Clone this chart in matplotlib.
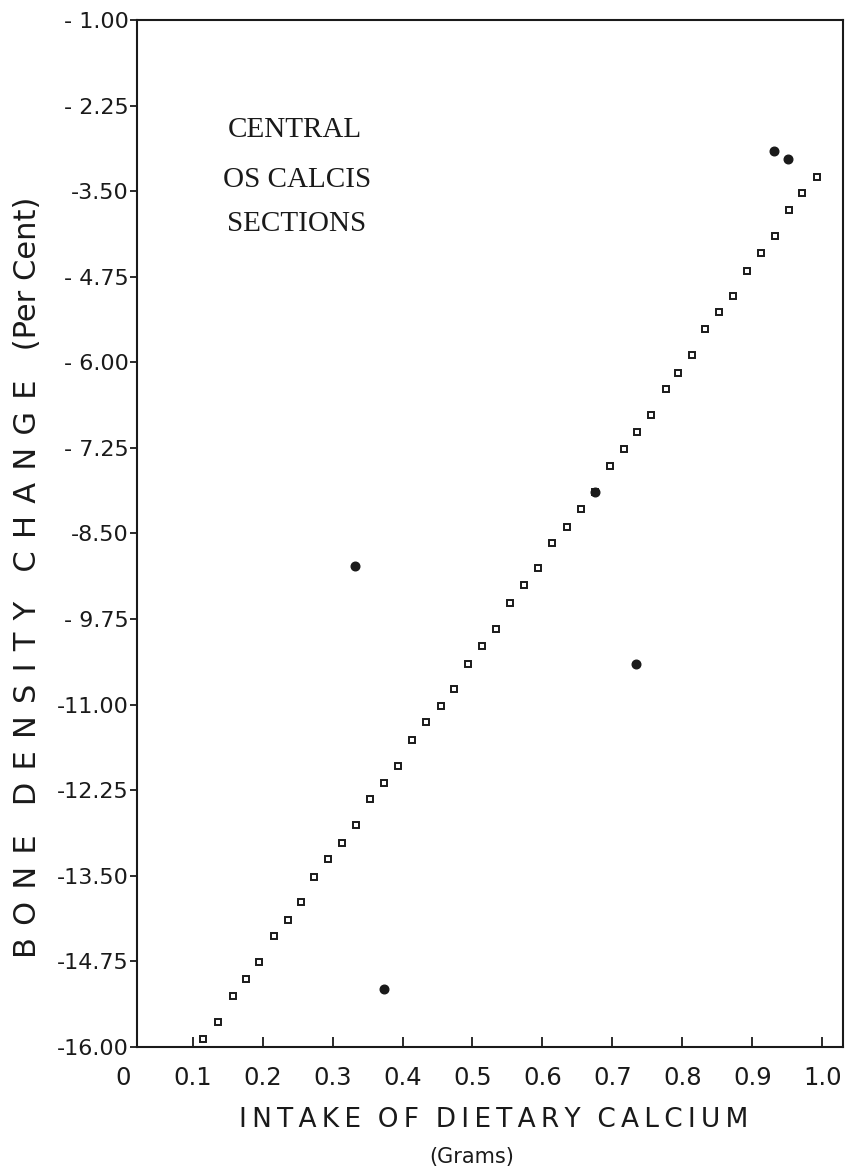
import matplotlib
matplotlib.use("Agg")
import matplotlib.pyplot as plt

# regression points (open squares)
line_x = [0.115, 0.136, 0.157, 0.176, 0.195, 0.217, 0.236, 0.255, 0.274, 0.294,
          0.314, 0.334, 0.354, 0.374, 0.394, 0.414, 0.434, 0.455, 0.474, 0.494,
          0.513, 0.534, 0.554, 0.574, 0.594, 0.614, 0.635, 0.655, 0.675, 0.696,
          0.716, 0.735, 0.755, 0.776, 0.794, 0.814, 0.833, 0.853, 0.873, 0.892,
          0.912, 0.932, 0.952, 0.971, 0.992]
line_y = [-15.88, -15.63, -15.26, -15.01, -14.76, -14.38, -14.14, -13.89, -13.52, -13.26,
          -13.02, -12.76, -12.38, -12.14, -11.89, -11.51, -11.26, -11.02, -10.77, -10.40,
          -10.15, -9.90, -9.52, -9.26, -9.01, -8.64, -8.40, -8.14, -7.89, -7.52,
          -7.27, -7.02, -6.77, -6.39, -6.15, -5.89, -5.52, -5.27, -5.03, -4.66,
          -4.41, -4.16, -3.78, -3.53, -3.29]

# observed values (filled dots)
obs_x = [0.332, 0.373, 0.675, 0.734, 0.931, 0.951]
obs_y = [-8.98, -15.15, -7.89, -10.40, -2.91, -3.03]

yticks = [-1.00, -2.25, -3.50, -4.75, -6.00, -7.25, -8.50, -9.75,
          -11.00, -12.25, -13.50, -14.75, -16.00]
ytick_labels = ["- 1.00", "- 2.25", "-3.50", "- 4.75", "- 6.00", "- 7.25", "-8.50",
                "- 9.75", "-11.00", "-12.25", "-13.50", "-14.75", "-16.00"]
xticks = [0, 0.1, 0.2, 0.3, 0.4, 0.5, 0.6, 0.7, 0.8, 0.9, 1.0]
xtick_labels = ["0", "0.1", "0.2", "0.3", "0.4", "0.5", "0.6", "0.7", "0.8", "0.9", "1.0"]

ink = "#1a1a1a"
fig = plt.figure(figsize=(8.46, 11.72), dpi=100)
ax = fig.add_axes([0.1450, 0.1067, 0.8514, 0.8763])

ax.plot(line_x, line_y, linestyle="none", marker="s", markersize=4,
        markerfacecolor="white", markeredgecolor=ink, markeredgewidth=1.4)
ax.plot(obs_x, obs_y, linestyle="none", marker="o", markersize=6.2,
        color=ink)

ax.set_xlim(0, 1.0296)
ax.set_ylim(-16, -1)

# frame starts a little right of x = 0, like the drawing
ax.spines["left"].set_position(("data", 0.0204))
ax.spines["bottom"].set_bounds(0.0204, 1.0296)
ax.spines["top"].set_bounds(0.0204, 1.0296)
for s in ax.spines.values():
    s.set_linewidth(1.5)
    s.set_color(ink)

ax.set_yticks(yticks)
ax.set_yticklabels(ytick_labels)
ax.set_xticks(xticks)
ax.set_xticklabels(xtick_labels)
ax.tick_params(axis="y", direction="out", length=5, width=1.3, pad=1,
               labelsize=16, colors=ink)
ax.tick_params(axis="x", direction="in", length=7, width=1.3, pad=14,
               labelsize=17.5, colors=ink)
ax.xaxis.get_major_ticks()[0].tick1line.set_visible(False)

fig.text(0.349, 0.889, "CENTRAL", family="Liberation Serif", fontsize=21,
         ha="center", va="center", color=ink)
fig.text(0.351, 0.846, "OS CALCIS", family="Liberation Serif", fontsize=21,
         ha="center", va="center", color=ink)
fig.text(0.351, 0.809, "SECTIONS", family="Liberation Serif", fontsize=21,
         ha="center", va="center", color=ink)

sp = "\u2009"
xlabel = "  ".join(sp.join(w) for w in "INTAKE OF DIETARY CALCIUM".split())
fig.text(0.583, 0.0445, xlabel, fontsize=19, ha="center", va="center", color=ink)
fig.text(0.557, 0.0128, "(Grams)", fontsize=15, ha="center", va="center", color=ink)

sp2 = "\u2009\u2009"
ylabel = "   ".join(sp2.join(w) for w in "BONE DENSITY CHANGE".split()) + "   (Per Cent)"
fig.text(0.032, 0.507, ylabel, fontsize=22, rotation=90, ha="center", va="center",
         color=ink)

fig.savefig("out.png", dpi=100)
